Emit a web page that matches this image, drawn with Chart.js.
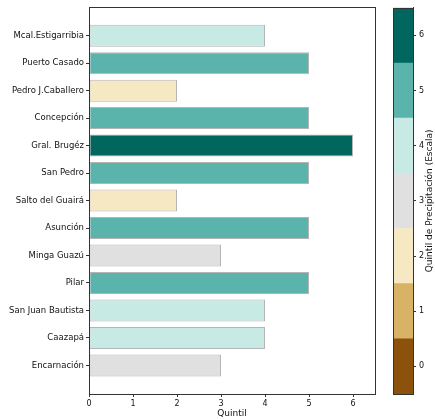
<!DOCTYPE html>
<html>
<head>
<meta charset="utf-8">
<script src="https://cdn.jsdelivr.net/npm/chart.js@4/dist/chart.umd.min.js"></script>
<style>
  body { margin: 0; background: #fff; }
  #wrap { position: relative; width: 435px; height: 419px; }
  #main { position: absolute; left: 0; top: 0; }
  #bar { position: absolute; left: 385px; top: 0; }
</style>
</head>
<body>
<div id="wrap">
  <canvas id="main" width="385" height="419"></canvas>
  <canvas id="bar" width="50" height="419"></canvas>
</div>
<script>
const cities = ['Mcal.Estigarribia', 'Puerto Casado', 'Pedro J.Caballero', 'Concepción', 'Gral. Brugéz',
  'San Pedro', 'Salto del Guairá', 'Asunción', 'Minga Guazú', 'Pilar', 'San Juan Bautista', 'Caazapá', 'Encarnación'];
const quintil = [4, 5, 2, 5, 6, 5, 2, 5, 3, 5, 4, 4, 3];
const xTicks = [0, 1, 2, 3, 4, 5, 6];
const levels = [0, 1, 2, 3, 4, 5, 6];
const palette = ['#8c510a', '#d8b365', '#f6e8c3', '#e0e0e0', '#c7eae5', '#5ab4ac', '#01665e'];

Chart.defaults.font.family = 'DejaVu Sans';
Chart.defaults.color = '#111';

const frame = {
  id: 'frame',
  afterDraw(c) {
    const a = c.chartArea, ctx = c.ctx;
    ctx.save();
    ctx.strokeStyle = '#333';
    ctx.lineWidth = 1;
    ctx.strokeRect(Math.round(a.left) + 0.5, Math.round(a.top) + 0.5,
      Math.round(a.right - a.left), Math.round(a.bottom - a.top));
    ctx.restore();
  }
};

new Chart(document.getElementById('main'), {
  type: 'bar',
  data: {
    datasets: [{
      data: quintil.map((v, i) => ({ x: v, y: i })),
      backgroundColor: quintil.map(v => palette[v]),
      borderColor: '#b5b5b5',
      borderWidth: 1,
      borderSkipped: false,
      barPercentage: 0.8,
      categoryPercentage: 1
    }]
  },
  options: {
    indexAxis: 'y',
    responsive: false,
    animation: false,
    layout: { padding: { top: 6, right: 10 } },
    plugins: { legend: { display: false }, tooltip: { enabled: false } },
    scales: {
      x: {
        type: 'linear', min: 0, max: 6.5,
        afterBuildTicks: s => { s.ticks = xTicks.map(v => ({ value: v })); },
        afterFit: s => { s.height = 25; },
        grid: { drawOnChartArea: false, tickLength: 3, color: '#333' },
        border: { color: '#333' },
        ticks: { font: { size: 8 }, padding: 2, maxRotation: 0 },
        title: { display: true, text: 'Quintil', font: { size: 9 }, padding: 0 }
      },
      y: {
        type: 'linear', reverse: true, min: -1.04, max: 13.04, offset: false,
        afterBuildTicks: s => { s.ticks = cities.map((c, i) => ({ value: i })); },
        afterFit: s => { s.width = 89; },
        grid: { drawOnChartArea: false, offset: false, tickLength: 3, color: '#333' },
        border: { color: '#333' },
        ticks: { font: { size: 8.5 }, padding: 2, autoSkip: false, callback: v => cities[v] }
      }
    }
  },
  plugins: [frame]
});

const cbTitle = {
  id: 'cbTitle',
  afterDraw(c) {
    const a = c.chartArea, ctx = c.ctx;
    ctx.save();
    ctx.translate(45, (a.top + a.bottom) / 2);
    ctx.rotate(-Math.PI / 2);
    ctx.font = '9px DejaVu Sans';
    ctx.fillStyle = '#111';
    ctx.textAlign = 'center';
    ctx.textBaseline = 'middle';
    ctx.fillText('Quintil de Precipitación (Escala)', 0, 0);
    ctx.restore();
  }
};

new Chart(document.getElementById('bar'), {
  type: 'bar',
  data: {
    labels: ['q'],
    datasets: levels.map(l => ({
      data: [[l - 0.5, l + 0.5]],
      backgroundColor: palette[l],
      borderWidth: 0,
      barPercentage: 1,
      categoryPercentage: 1,
      grouped: false
    }))
  },
  options: {
    responsive: false,
    animation: false,
    layout: { padding: { top: 6, left: 8, bottom: 25 } },
    plugins: { legend: { display: false }, tooltip: { enabled: false } },
    scales: {
      x: { display: false },
      y: {
        position: 'right', min: -0.5, max: 6.5,
        afterBuildTicks: s => { s.ticks = levels.map(v => ({ value: v })); },
        afterFit: s => { s.width = 22; },
        grid: { drawOnChartArea: false, tickLength: 3, color: '#333' },
        border: { color: '#333' },
        ticks: { font: { size: 8 }, padding: 3 }
      }
    }
  },
  plugins: [frame, cbTitle]
});
</script>
</body>
</html>
